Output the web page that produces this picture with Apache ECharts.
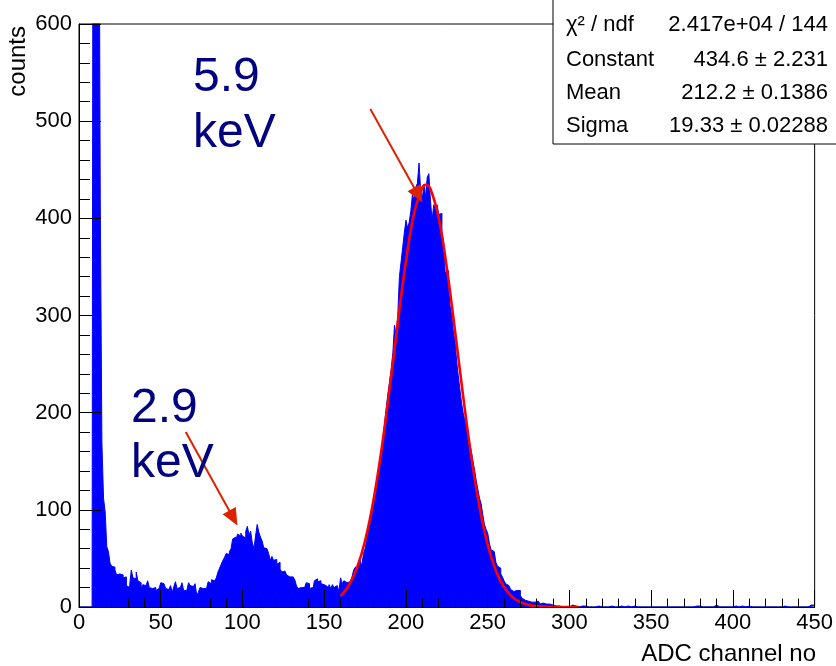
<!DOCTYPE html>
<html><head><meta charset="utf-8">
<script src="https://cdn.jsdelivr.net/npm/echarts@6/dist/echarts.min.js"></script>
<style>html,body{margin:0;padding:0;background:#fff}#c{width:836px;height:666px}</style>
</head><body><div id="c"></div><script>
// Histogram: bin i covers [binLow + i*binWidth, binLow + (i+1)*binWidth)
const binLow = 0;
const binWidth = 1;
const counts = [
  0,0,0,0,0,0,0,0,0,1400,
  2600,1900,900,420,170,112,98,62,57,45,
  42,41,38,33,34,32,33,30,31,22,
  20,23,38,30,29,36,27,25,19,23,
  22,24,27,20,19,18,20,17,19,21,
  25,24,25,19,18,20,22,15,21,26,
  19,20,18,25,17,17,16,25,22,21,
  22,24,12,15,20,19,17,19,21,26,
  24,28,27,28,30,36,40,44,48,51,
  55,54,57,60,70,72,69,75,73,76,
  73,71,78,83,74,78,66,60,73,85,
  77,72,68,61,60,58,55,48,52,48,
  49,44,46,39,36,37,35,33,31,32,
  31,29,28,22,19,20,21,20,22,25,
  24,19,20,17,27,29,26,27,24,23,
  21,21,17,23,19,23,20,22,20,16,
  30,24,27,25,23,26,28,31,38,41,
  42,45,48,42,55,60,70,79,88,97,
  103,112,128,138,150,161,172,190,205,220,
  232,245,262,290,280,300,340,355,370,385,
  398,390,396,408,425,418,432,436,457,428,
  420,435,422,442,446,418,398,414,408,414,
  404,405,386,376,344,346,330,310,300,283,
  274,253,238,224,210,200,192,183,175,168,
  160,150,141,130,121,112,106,95,85,80,
  76,66,59,57,58,46,42,40,34,31,
  27,24,22,21,18,16,17,17,16,17,
  12,9,7,5,6,7,5,4,5,7,
  6,4,3,4,2,3,2,3,1,2,
  2,1,0,1,2,0,1,0,1,0,
  1,2,1,1,0,0,0,1,2,1,
  1,0,0,0,0,0,1,1,0,0,
  0,0,0,0,0,1,0,0,0,0,
  0,1,0,0,0,1,0,0,0,1,
  1,0,0,0,0,0,0,0,0,0,
  0,0,0,0,0,0,0,0,0,0,
  0,0,0,0,0,0,0,0,0,0,
  0,0,0,0,0,0,0,1,2,1,
  1,0,0,0,0,0,0,0,0,2,
  0,0,0,0,0,0,1,0,0,0,
  0,1,0,0,0,1,1,0,1,1,
  0,0,0,0,0,0,0,0,0,0,
  0,0,1,0,0,0,0,0,0,0,
  0,1,0,0,0,0,0,0,0,0,
  0,0,0,0,0,0,1,2,1,2
];

// Gaussian fit curve
const fitX = [160,165,170,175,180,185,190,195,200,205,210,212.2,215,220,225,230,235,240,245,250,255,260,265,270,275,280,285,290,295,300,306];
const fitY = [11.3,22.1,40.1,68.2,108.5,161.5,224.7,292.5,356.1,405.5,431.8,434.6,430.1,400.6,349.0,284.4,216.8,154.5,103.0,64.2,37.4,20.4,10.4,5.0,2.2,0.9,0.4,0.1,0.0,0,0];

// Arrows (annotation) in data coordinates: [x0,y0,x1,y1]
const arrow59 = [178.2, 512.5, 207.5, 424];
const arrow29 = [65.3, 180, 94.4, 91.6];

// Stats box
const statNames = ['χ² / ndf', 'Constant', 'Mean', 'Sigma'];
const statValues = ['2.417e+04 / 144', '434.6 ± 2.231', '212.2 ± 0.1386', '19.33 ± 0.02288'];

const xTitle = 'ADC channel no';
const yTitle = 'counts';
const peakLabels = ['5.9\nkeV', '2.9\nkeV'];

const FONT = 'Liberation Sans';

const histData = counts.map((v, i) => [binLow + i * binWidth, v]);
histData.push([binLow + counts.length * binWidth, counts[counts.length - 1]]);
const fitData = fitX.map((x, i) => [x, fitY[i]]);

const chart = echarts.init(document.getElementById('c'), null, {renderer: 'canvas'});

const statRowsY = [25, 60, 93, 126];
const statGraphics = [];
statGraphics.push({type: 'rect', shape: {x: 553, y: -1, width: 290, height: 145}, style: {fill: '#fff', stroke: '#000', lineWidth: 1}, z: 100});
statNames.forEach((n, i) => {
  statGraphics.push({type: 'text', x: 566, y: statRowsY[i], z: 101,
    style: {text: n, font: '22px ' + FONT, fill: '#000', align: 'left', verticalAlign: 'middle'}});
  statGraphics.push({type: 'text', x: 828, y: statRowsY[i], z: 101,
    style: {text: statValues[i], font: '22px ' + FONT, fill: '#000', align: 'right', verticalAlign: 'middle'}});
});

chart.setOption({
  animation: false,
  backgroundColor: '#fff',
  grid: {left: 79, right: 19, top: 24, bottom: 59, show: true, borderColor: '#000', borderWidth: 1, backgroundColor: 'transparent'},
  xAxis: {
    type: 'value', min: 0, max: 450, interval: 50, z: 5,
    axisLine: {show: true, onZero: false, lineStyle: {color: '#000', width: 1}},
    axisTick: {show: true, inside: true, length: 17, lineStyle: {color: '#000', width: 1}},
    minorTick: {show: true, splitNumber: 5, length: 8.5, lineStyle: {color: '#000', width: 1}},
    splitLine: {show: false},
    axisLabel: {color: '#000', fontSize: 22, fontFamily: FONT, margin: 5}
  },
  yAxis: {
    type: 'value', min: 0, max: 600, interval: 100, z: 5,
    axisLine: {show: true, onZero: false, lineStyle: {color: '#000', width: 1}},
    axisTick: {show: true, inside: true, length: 22, lineStyle: {color: '#000', width: 1}},
    minorTick: {show: true, splitNumber: 5, length: 11, lineStyle: {color: '#000', width: 1}},
    splitLine: {show: false},
    axisLabel: {color: '#000', fontSize: 22, fontFamily: FONT, margin: 7}
  },
  series: [
    {
      type: 'line', name: 'histogram', data: histData, step: 'end', symbol: 'none', clip: true,
      lineStyle: {color: '#0000ff', width: 1}, areaStyle: {color: '#0000ff', opacity: 1},
      z: 2, silent: true
    },
    {
      type: 'line', name: 'fit', data: fitData, smooth: 0.4, symbol: 'none', clip: true,
      lineStyle: {color: '#ff0000', width: 2.6}, z: 3, silent: true,
      markLine: {
        silent: true, symbol: ['none', 'triangle'], symbolSize: [15, 17],
        lineStyle: {color: '#dd2200', width: 2, type: 'solid'},
        label: {show: false},
        data: [
          [{coord: [arrow59[0], arrow59[1]]}, {coord: [arrow59[2], arrow59[3]]}],
          [{coord: [arrow29[0], arrow29[1]]}, {coord: [arrow29[2], arrow29[3]]}]
        ]
      }
    }
  ],
  graphic: [
    {type: 'text', x: 193, y: 50, z: 50, style: {text: peakLabels[0], font: '48px ' + FONT, lineHeight: 56, fill: '#000080', align: 'left', verticalAlign: 'top'}},
    {type: 'text', x: 131, y: 381, z: 50, style: {text: peakLabels[1], font: '48px ' + FONT, lineHeight: 55, fill: '#000080', align: 'left', verticalAlign: 'top'}},
    {type: 'text', x: 816, y: 654, z: 50, style: {text: xTitle, font: '24px ' + FONT, fill: '#000', align: 'right', verticalAlign: 'middle'}},
    {type: 'text', x: 18, y: 26, rotation: Math.PI / 2, z: 50, style: {text: yTitle, font: '24px ' + FONT, fill: '#000', align: 'right', verticalAlign: 'middle'}}
  ].concat(statGraphics)
});
</script></body></html>
